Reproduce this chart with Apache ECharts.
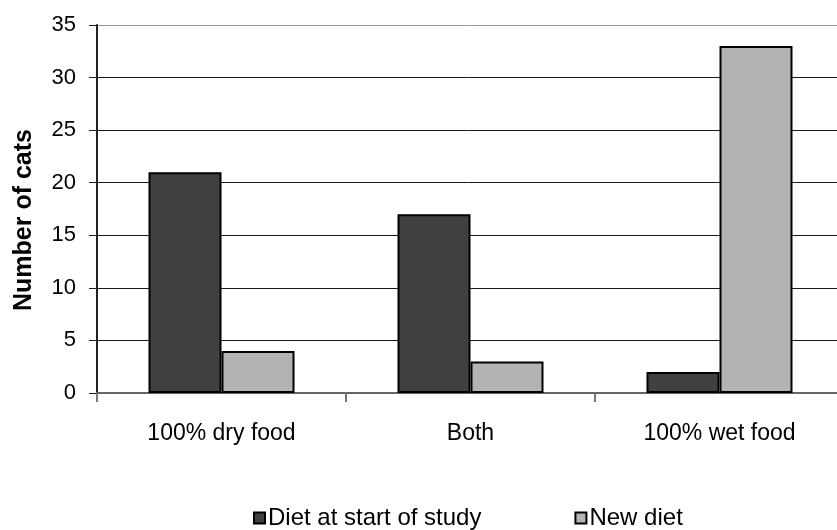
<!DOCTYPE html>
<html>
<head>
<meta charset="utf-8">
<script src="https://cdn.jsdelivr.net/npm/echarts@6/dist/echarts.min.js"></script>
<style>
  html, body { margin: 0; padding: 0; background: #fff; }
  #chart { width: 837px; height: 530px; }
</style>
</head>
<body>
<div id="chart"></div>
<script>
// Cat diet survey: number of cats per diet type
const categories = ['100% dry food', 'Both', '100% wet food'];
const seriesNames = ['Diet at start of study', 'New diet'];
const startDiet = [21, 17, 2];
const newDiet = [4, 3, 33];
const yTicks = { min: 0, max: 35, interval: 5 };

const FONT = '"Liberation Sans", Arial, sans-serif';

const chart = echarts.init(document.getElementById('chart'), null, { renderer: 'canvas' });

chart.setOption({
  animation: false,
  backgroundColor: '#ffffff',
  textStyle: { fontFamily: FONT, color: '#000' },
  grid: { left: 97, right: -7, top: 25, bottom: 137, containLabel: false, outerBoundsMode: 'none' },
  legend: {
    left: 253,
    top: 506,
    padding: 0,
    icon: 'rect',
    itemWidth: 11,
    itemHeight: 11,
    itemGap: 93,
    textStyle: { fontFamily: FONT, fontSize: 24, color: '#000', padding: [0, 0, 0, -2] },
    data: seriesNames
  },
  xAxis: {
    type: 'category',
    data: categories,
    boundaryGap: true,
    axisLine: { show: true, lineStyle: { color: '#666', width: 2 } },
    axisTick: { show: true, length: 9, alignWithLabel: false, lineStyle: { color: '#777', width: 2 } },
    axisLabel: { margin: 29, fontSize: 23, color: '#000', fontFamily: FONT },
    splitLine: { show: false }
  },
  yAxis: {
    type: 'value',
    min: yTicks.min,
    max: yTicks.max,
    interval: yTicks.interval,
    name: 'Number of cats',
    nameLocation: 'middle',
    nameGap: 60,
    nameTextStyle: { fontFamily: FONT, fontSize: 25, fontWeight: 'bold', color: '#000', padding: [0, 22, 0, 0] },
    axisLine: { show: true, lineStyle: { color: '#222', width: 2 } },
    axisTick: { show: true, inside: false, length: 8, lineStyle: { color: '#222', width: 1 } },
    axisLabel: { margin: 21, fontSize: 22, color: '#000', fontFamily: FONT },
    splitLine: {
      show: true,
      lineStyle: {
        color: ['#1a1a1a', '#1a1a1a', '#1a1a1a', '#1a1a1a', '#1a1a1a', '#1a1a1a', '#1a1a1a', '#999'],
        width: 1
      }
    }
  },
  series: [
    {
      name: seriesNames[0],
      type: 'bar',
      data: startDiet,
      barWidth: 73,
      barGap: '0%',
      itemStyle: { color: '#404040', borderColor: '#000', borderWidth: 2 }
    },
    {
      name: seriesNames[1],
      type: 'bar',
      data: newDiet,
      barWidth: 73,
      barGap: '0%',
      itemStyle: { color: '#b3b3b3', borderColor: '#000', borderWidth: 2 }
    }
  ]
});
</script>
</body>
</html>
